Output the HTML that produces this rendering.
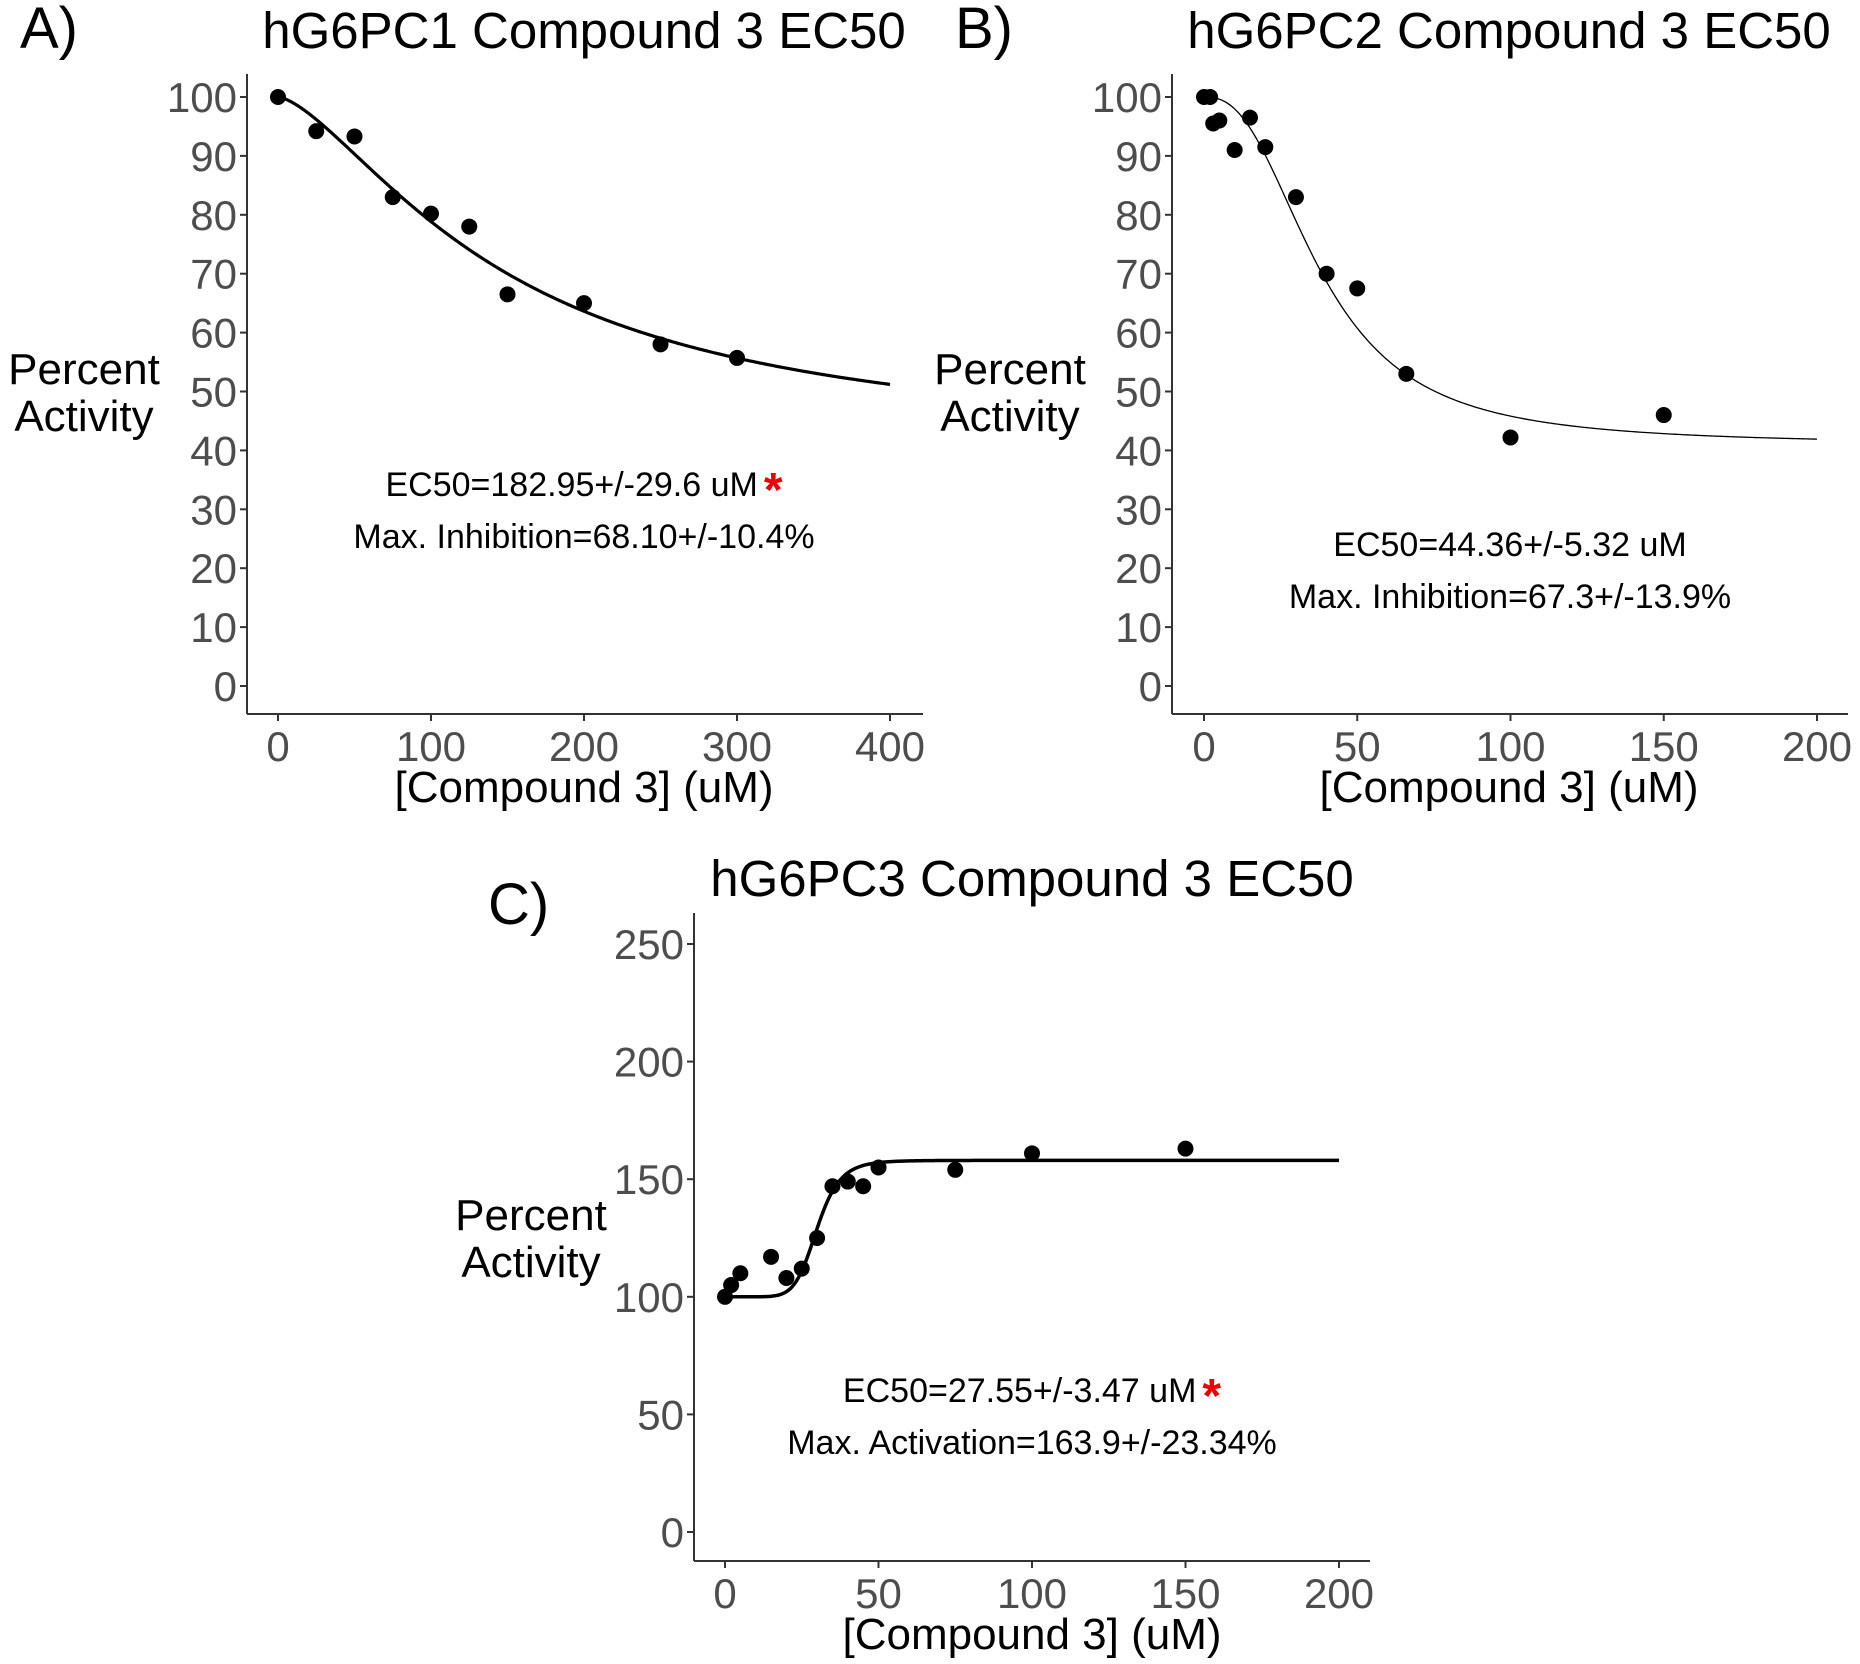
<!DOCTYPE html>
<html><head><meta charset="utf-8">
<style>
html,body{margin:0;padding:0;background:#fff;}
svg{display:block;font-family:"Liberation Sans",Arial,sans-serif;}
</style></head>
<body>
<svg id="fig" width="1860" height="1664" viewBox="0 0 1860 1664" xmlns="http://www.w3.org/2000/svg"></svg>
<script>
// Panel A data
const aX = [0,25,50,75,100,125,150,200,250,300];
const aY = [100,94.2,93.3,83,80.2,78,66.5,65,58,55.7];
const aFit = [40,100,150,1.5]; // bottom, top, ec50, hill
const aXTicks = [0,100,200,300,400];
const aYTicks = [0,10,20,30,40,50,60,70,80,90,100];
// Panel B data
const bX = [0,2,3,5,10,15,20,30,40,50,66,100,150];
const bY = [100,100,95.5,96,91,96.5,91.5,83,70,67.5,53,42.2,46];
const bFit = [41,100,38,2.5];
const bXTicks = [0,50,100,150,200];
const bYTicks = [0,10,20,30,40,50,60,70,80,90,100];
// Panel C data
const cX = [0,2,5,15,20,25,30,35,40,45,50,75,100,150];
const cY = [100,105,110,117,108,112,125,147,149,147,155,154,161,163];
const cFit = [158,100,30,8];
const cXTicks = [0,50,100,150,200];
const cYTicks = [0,50,100,150,200,250];

const NS="http://www.w3.org/2000/svg";
const svg=document.getElementById('fig');
function mk(tag,attrs,parent){const e=document.createElementNS(NS,tag);for(const k in attrs)e.setAttribute(k,attrs[k]);(parent||svg).appendChild(e);return e;}
function txt(s,attrs,parent){const e=mk('text',attrs,parent);e.textContent=s;return e;}

function panel(o){
  const g=mk('g',{});
  
  
  const sx=v=>o.px0+(v-o.xmin)/(o.xmax-o.xmin)*(o.px1-o.px0);
  const sy=v=>o.py0+(v-o.ymin)/(o.ymax-o.ymin)*(o.py1-o.py0);
  const ya=mk('line',{x1:o.ax,y1:o.atop,x2:o.ax,y2:o.ay,stroke:'#333','stroke-width':2},g);
  
  const xa=mk('line',{x1:o.ax,y1:o.ay,x2:o.aright,y2:o.ay,stroke:'#333','stroke-width':2},g);
  
  o.yt.forEach(v=>{
    const y=sy(v);
    mk('line',{x1:o.ax-7,y1:y,x2:o.ax,y2:y,stroke:'#333','stroke-width':2},g);
    const t=txt(String(v),{x:o.ax-10,y:y+15,'text-anchor':'end','font-size':42,fill:'#4d4d4d'},g);
    
  });
  o.xt.forEach(v=>{
    const x=sx(v);
    mk('line',{x1:x,y1:o.ay,x2:x,y2:o.ay+7,stroke:'#333','stroke-width':2},g);
    const t=txt(String(v),{x:x,y:o.ay+47,'text-anchor':'middle','font-size':42,fill:'#4d4d4d'},g);
    
  });
  const f=o.fit;let d='';
  for(let i=0;i<=300;i++){const x=o.xmin+(o.xmax-o.xmin)*i/300;const y=f[0]+(f[1]-f[0])/(1+Math.pow(x/f[2],f[3]));d+=(i?'L':'M')+sx(x).toFixed(2)+','+sy(y).toFixed(2);}
  const c=mk('path',{d:d,fill:'none',stroke:'#000','stroke-width':o.lw},g);
  
  o.xs.forEach((x,i)=>{
    const p=mk('circle',{cx:sx(x),cy:sy(o.ys[i]),r:8,fill:'#000'},g);
    
  });
  const tt=txt(o.title,{x:o.tx,y:o.ty,'text-anchor':'middle','font-size':51,fill:'#000'},g);
  
  const pl=txt(o.letter,{x:o.lx,y:o.ly,'font-size':58,fill:'#000'},g);
  
  const yl=txt('',{x:o.ylx,y:o.yly,'text-anchor':'middle','font-size':44,fill:'#000'},g);
  
  mk('tspan',{x:o.ylx,dy:0},yl).textContent='Percent';
  mk('tspan',{x:o.ylx,dy:47},yl).textContent='Activity';
  const xl=txt('[Compound 3] (uM)',{x:o.tx,y:o.xly,'text-anchor':'middle','font-size':44,fill:'#000'},g);
  
  const a1=txt(o.ann1,{x:o.anx,y:o.any,'text-anchor':'middle','font-size':34,fill:'#000'},g);
  
  if(o.star){const s=mk('tspan',{fill:'#e00','font-size':48,'font-weight':'bold',dx:6,dy:10},a1);s.textContent='*';}
  const a2=txt(o.ann2,{x:o.anx,y:o.any+52,'text-anchor':'middle','font-size':34,fill:'#000'},g);
  
}

panel({name:'panel-a',xs:aX,ys:aY,fit:aFit,xt:aXTicks,yt:aYTicks,xmin:0,xmax:400,ymin:0,ymax:100,
  px0:278,px1:890,py0:686,py1:97,ax:247,ay:714,atop:74,aright:923,lw:3.2,
  title:'hG6PC1 Compound 3 EC50',tx:584,ty:48,letter:'A)',lx:20,ly:48,ylx:84,yly:384,xly:802,
  ann1:'EC50=182.95+/-29.6 uM',ann2:'Max. Inhibition=68.10+/-10.4%',anx:584,any:496,star:true});
panel({name:'panel-b',xs:bX,ys:bY,fit:bFit,xt:bXTicks,yt:bYTicks,xmin:0,xmax:200,ymin:0,ymax:100,
  px0:1204,px1:1817,py0:686,py1:97,ax:1172,ay:714,atop:74,aright:1848,lw:1.3,
  title:'hG6PC2 Compound 3 EC50',tx:1509,ty:48,letter:'B)',lx:955,ly:48,ylx:1010,yly:384,xly:802,
  ann1:'EC50=44.36+/-5.32 uM',ann2:'Max. Inhibition=67.3+/-13.9%',anx:1510,any:556,star:false});
panel({name:'panel-c',xs:cX,ys:cY,fit:cFit,xt:cXTicks,yt:cYTicks,xmin:0,xmax:200,ymin:0,ymax:250,
  px0:725,px1:1339,py0:1532,py1:944,ax:694,ay:1561,atop:913,aright:1370,lw:3.5,
  title:'hG6PC3 Compound 3 EC50',tx:1032,ty:896,letter:'C)',lx:488,ly:924,ylx:531,yly:1230,xly:1649,
  ann1:'EC50=27.55+/-3.47 uM',ann2:'Max. Activation=163.9+/-23.34%',anx:1032,any:1402,star:true});
</script>
</body></html>
